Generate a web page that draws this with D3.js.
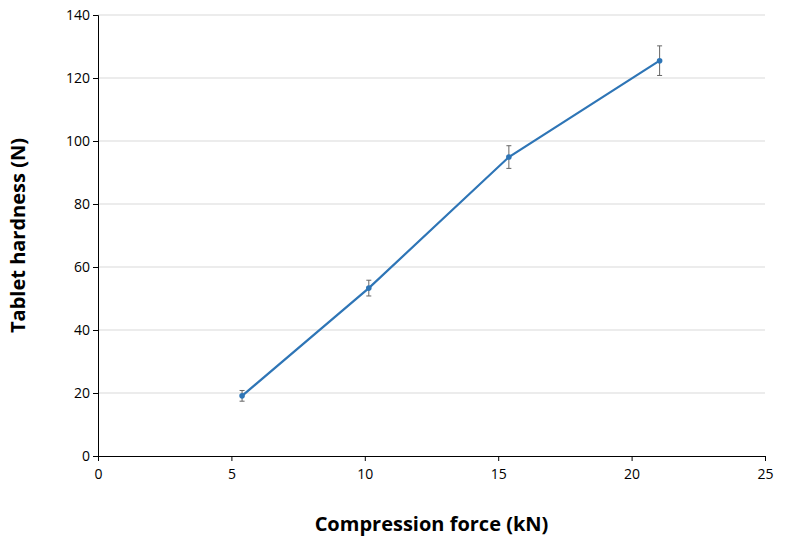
<!DOCTYPE html>
<html><head><meta charset="utf-8">
<script src="https://cdn.jsdelivr.net/npm/d3@7"></script>
<style>body{margin:0;background:#fff;} text{font-family:"Open Sans",sans-serif;}</style>
</head><body><div id="container"></div>
<script>
/* DATA */
const force = [5.4, 10.15, 15.4, 21.05];
const hardness = [19.1, 53.3, 94.9, 125.5];
const errs = [1.7, 2.5, 3.6, 4.7];
const xTicks = [0, 5, 10, 15, 20, 25];
const yTicks = [0, 20, 40, 60, 80, 100, 120, 140];

const width = 799, height = 543,
      margin = {top:15, bottom:87, left:98, right:34};

const svg = d3.select("#container").append("svg")
  .attr("width", width).attr("height", height);

const xScale = d3.scaleLinear().domain([0, 25]).range([margin.left, width - margin.right]);
const yScale = d3.scaleLinear().domain([0, 140]).range([height - margin.bottom, margin.top]);

// gridlines
svg.append("g").selectAll("line").data(yTicks.slice(1)).join("line")
  .attr("x1", xScale(0)).attr("x2", xScale(25))
  .attr("y1", d => yScale(d)).attr("y2", d => yScale(d))
  .attr("stroke", "#d9d9d9").attr("stroke-width", 1);

// axes
const xAxis = svg.append("g").attr("transform", `translate(0,${yScale(0)})`)
  .call(d3.axisBottom(xScale).tickValues(xTicks).tickSizeOuter(0).tickSize(5));
const yAxis = svg.append("g").attr("transform", `translate(${xScale(0)},0)`)
  .call(d3.axisLeft(yScale).tickValues(yTicks).tickSizeOuter(0).tickSize(5));
[xAxis, yAxis].forEach(a => {
  a.selectAll("path,line").attr("stroke", "#000");
  a.selectAll("text").attr("font-size", "14px").attr("fill", "#000")
    .style("font-family", "'Open Sans',sans-serif");
});
xAxis.selectAll("text").attr("dy", "1.1em");

const data = force.map((f, i) => ({x: f, y: hardness[i], e: errs[i]}));

// error bars
const eb = svg.append("g").attr("stroke", "#666").attr("stroke-width", 1);
eb.selectAll("line.v").data(data).join("line").attr("class", "v")
  .attr("x1", d => xScale(d.x)).attr("x2", d => xScale(d.x))
  .attr("y1", d => yScale(d.y - d.e)).attr("y2", d => yScale(d.y + d.e));
eb.selectAll("line.t").data(data.flatMap(d => [d.y - d.e, d.y + d.e].map(v => ({x: d.x, v})))).join("line")
  .attr("class", "t")
  .attr("x1", d => xScale(d.x) - 2.5).attr("x2", d => xScale(d.x) + 2.5)
  .attr("y1", d => yScale(d.v)).attr("y2", d => yScale(d.v));

// line
svg.append("path").datum(data)
  .attr("d", d3.line().x(d => xScale(d.x)).y(d => yScale(d.y)))
  .attr("fill", "none").attr("stroke", "#2e75b6").attr("stroke-width", 2.2);

svg.selectAll("circle").data(data).join("circle")
  .attr("cx", d => xScale(d.x)).attr("cy", d => yScale(d.y)).attr("r", 2.8)
  .attr("fill", "#2e75b6");

// titles
svg.append("text").attr("x", xScale(12.5)).attr("y", 531)
  .attr("text-anchor", "middle").attr("font-size", "20px").attr("font-weight", "bold")
  .text("Compression force (kN)");
svg.append("text").attr("transform", `translate(25,${yScale(70)}) rotate(-90)`)
  .attr("text-anchor", "middle").attr("font-size", "20px").attr("font-weight", "bold")
  .text("Tablet hardness (N)");
</script></body></html>
